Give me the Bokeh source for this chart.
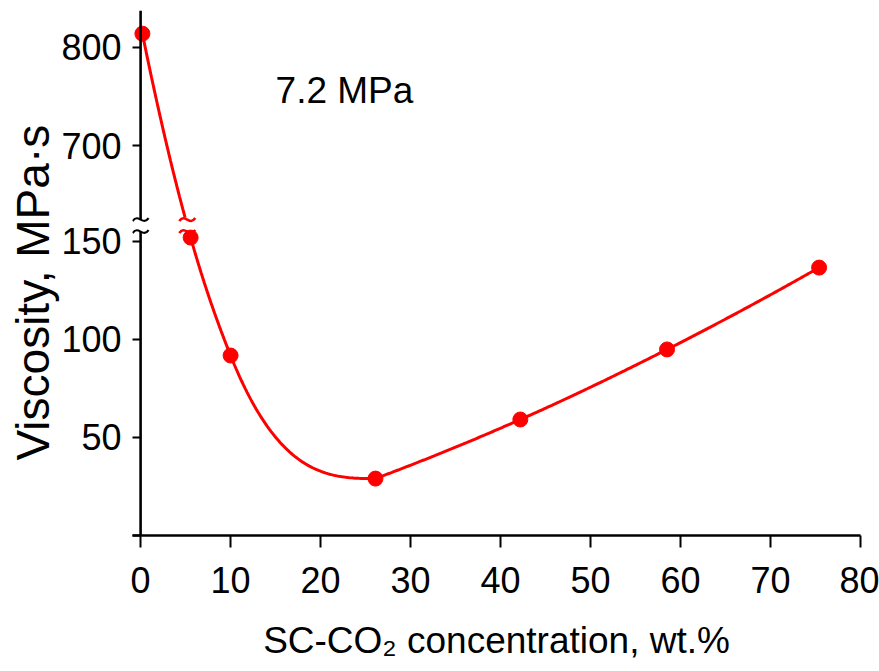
import numpy as np
from bokeh.plotting import figure
from bokeh.models import FixedTicker, Label, Range1d, Title
from bokeh.embed import file_html
from bokeh.resources import INLINE

# ---------------- data ----------------
co2_wt = [0.2, 5.56, 10.0, 26.1, 42.2, 58.5, 75.4]          # SC-CO2 concentration, wt.%
viscosity = [814.0, 151.8, 91.7, 29.0, 59.1, 94.8, 136.5]    # MPa·s
x_ticks = [0, 10, 20, 30, 40, 50, 60, 70, 80]
y_ticks_lower = [0, 50, 100, 150]
y_labels_lower = ["", "50", "100", "150"]
y_ticks_upper = [700, 800]
y_labels_upper = ["700", "800"]
pressure_label = "7.2 MPa"
x_title = "SC-CO\u2082 concentration, wt.%"
y_title = "Viscosity, MPa\u00b7s"

# ---------------- broken-axis mapping ----------------
BREAK_D = 157.9        # display position of the break (lower units)
UPPER_REF = 700.0      # upper segment reference value
UPPER_D0 = 198.7       # display position of UPPER_REF
UPPER_SCALE = 0.5      # upper segment compression
X_START, X_END = -0.9, 80.0
Y_TOP = 267.5
FRAME_W, FRAME_H = 728, 525
PXX = FRAME_W / (X_END - X_START)
PXY = FRAME_H / Y_TOP

def to_d(v):
    v = np.asarray(v, dtype=float)
    return np.where(v <= BREAK_D, v, UPPER_D0 + (v - UPPER_REF) * UPPER_SCALE)

xs = np.array(co2_wt, dtype=float)
ds = to_d(viscosity)

# ---------------- smooth curve (piecewise monotone Hermite) ----------------
def tangents(x, y):
    h = np.diff(x)
    s = np.diff(y) / h
    n = len(x)
    m = np.zeros(n)
    if n == 2:
        return np.array([s[0], s[0]])
    for k in range(1, n - 1):
        m[k] = (h[k] * s[k - 1] + h[k - 1] * s[k]) / (h[k - 1] + h[k])
    m[0] = ((2 * h[0] + h[1]) * s[0] - h[0] * s[1]) / (h[0] + h[1])
    m[-1] = ((2 * h[-1] + h[-2]) * s[-1] - h[-1] * s[-2]) / (h[-1] + h[-2])
    if np.sign(m[0]) != np.sign(s[0]):
        m[0] = 0.0
    if np.sign(m[-1]) != np.sign(s[-1]):
        m[-1] = 0.0
    for k in range(1, n - 1):
        if np.sign(s[k - 1]) != np.sign(s[k]):
            m[k] = 0.0
    return m

def hermite(x, y, m, npts=80):
    cx, cy = [], []
    for k in range(len(x) - 1):
        h = x[k + 1] - x[k]
        t = np.linspace(0, 1, npts)
        h00 = (1 + 2 * t) * (1 - t) ** 2
        h10 = t * (1 - t) ** 2
        h01 = t ** 2 * (3 - 2 * t)
        h11 = t ** 2 * (t - 1)
        cx.append(x[k] + h * t)
        cy.append(h00 * y[k] + h10 * h * m[k] + h01 * y[k + 1] + h11 * h * m[k + 1])
    return np.concatenate(cx), np.concatenate(cy)

imin = int(np.argmin(ds))
lx, ly = hermite(xs[:imin + 1], ds[:imin + 1], tangents(xs[:imin + 1], ds[:imin + 1]))
rx, ry = hermite(xs[imin:], ds[imin:], tangents(xs[imin:], ds[imin:]))

GAP = 6.0 / PXY
up_mask = ly >= BREAK_D + GAP
lo_mask = ly <= BREAK_D - GAP
order = np.argsort(ly[:200])
x_break = float(np.interp(BREAK_D, ly[:200][order], lx[:200][order]))

# ---------------- figure ----------------
p = figure(width=879, height=671, output_backend="svg", toolbar_location=None,
           x_range=Range1d(X_START, X_END), y_range=Range1d(0, Y_TOP),
           min_border_left=132, min_border_right=19, min_border_top=10, min_border_bottom=136)
p.outline_line_color = None
p.xgrid.visible = False
p.ygrid.visible = False
p.background_fill_color = "white"

FONT = "Liberation Sans"
RED = "#ff0000"

# curve
p.line(lx[up_mask], ly[up_mask], line_color=RED, line_width=3)
p.line(np.concatenate([lx[lo_mask], rx]), np.concatenate([ly[lo_mask], ry]), line_color=RED, line_width=3)
p.scatter(xs, ds, size=15, color=RED)

# own y-axis line with break
p.segment(x0=[0, 0], y0=[0, BREAK_D + GAP], x1=[0, 0], y1=[BREAK_D - GAP, Y_TOP],
          line_color="black", line_width=2.6)

# break marks (tilde shapes) on axis and on curve
def tilde_marks(xc, color, width):
    bx0, by0, bx1, by1, cx0, cy0, cx1, cy1 = [], [], [], [], [], [], [], []
    for off in (GAP, -GAP):
        yc = BREAK_D + off
        bx0.append(xc - 8 / PXX); by0.append(yc - 1.5 / PXY)
        bx1.append(xc + 8 / PXX); by1.append(yc + 1.5 / PXY)
        cx0.append(xc - 2 / PXX); cy0.append(yc + 7 / PXY)
        cx1.append(xc + 2 / PXX); cy1.append(yc - 7 / PXY)
    p.bezier(x0=bx0, y0=by0, x1=bx1, y1=by1, cx0=cx0, cy0=cy0, cx1=cx1, cy1=cy1,
             line_color=color, line_width=width)

tilde_marks(0.0, "black", 2.2)
tilde_marks(x_break, RED, 2.6)

# texts
p.add_layout(Label(x=15.0, y=226.5, text=pressure_label, text_font=FONT,
                   text_font_size="37px", text_color="black", text_baseline="middle"))
p.add_layout(Title(text=y_title, align="left", offset=75, standoff=0,
                   text_font=FONT, text_font_size="46px", text_font_style="normal",
                   text_color="black"), "left")

# axes
xa = p.xaxis[0]
xa.ticker = FixedTicker(ticks=x_ticks)
xa.minor_tick_line_color = None
xa.major_tick_in = 0
xa.major_tick_out = 12
xa.major_tick_line_width = 2
xa.axis_line_width = 2.6
xa.axis_line_color = "black"
xa.major_tick_line_color = "black"
xa.major_label_standoff = 19
xa.major_label_text_font = FONT
xa.major_label_text_font_size = "36px"
xa.major_label_text_color = "black"
xa.axis_label = x_title
xa.axis_label_text_font = FONT
xa.axis_label_text_font_size = "37px"
xa.axis_label_text_font_style = "normal"
xa.axis_label_text_color = "black"
xa.axis_label_standoff = 24

ya = p.yaxis[0]
tick_pos = list(map(float, to_d(y_ticks_lower))) + list(map(float, to_d(y_ticks_upper)))
ya.ticker = FixedTicker(ticks=tick_pos)
ya.major_label_overrides = {t: lab for t, lab in zip(tick_pos, y_labels_lower + y_labels_upper)}
ya.axis_line_color = None
ya.minor_tick_line_color = None
ya.major_tick_in = 8
ya.major_tick_out = 0
ya.major_tick_line_width = 2
ya.major_tick_line_color = "black"
ya.major_label_standoff = 11
ya.major_label_text_font = FONT
ya.major_label_text_font_size = "36px"
ya.major_label_text_color = "black"

open("out.html", "w").write(file_html(p, INLINE))
